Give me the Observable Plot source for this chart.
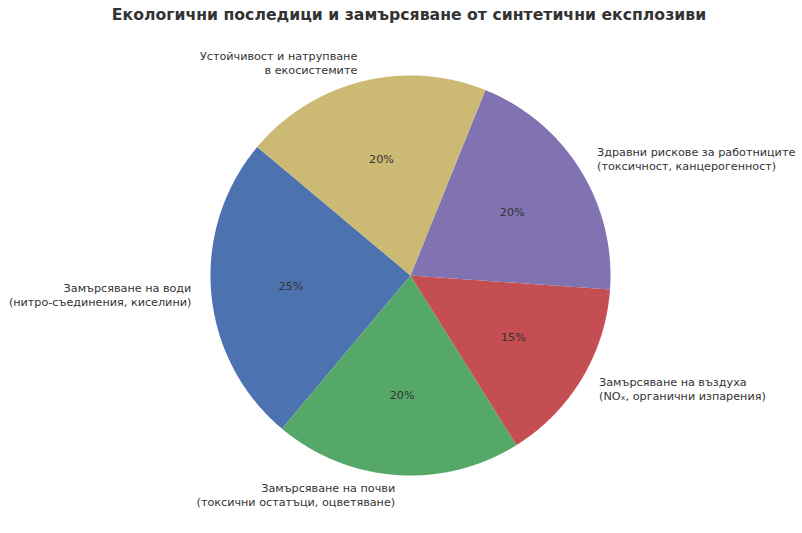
<!DOCTYPE html>
<html>
<head>
<meta charset="utf-8">
<script src="https://cdn.jsdelivr.net/npm/d3@7"></script>
<script src="https://cdn.jsdelivr.net/npm/@observablehq/plot@0.6"></script>
<style>
  body { margin: 0; background: #fff; font-family: "DejaVu Sans", sans-serif; }
  #title { height: 30px; line-height: 30px; text-align: center; font-weight: bold; font-size: 15.7px; color: #333; padding-left: 16px; }
</style>
</head>
<body>
<div id="title">Екологични последици и замърсяване от синтетични експлозиви</div>
<div id="chart"></div>
<script>
const categories = [
  "Замърсяване на води\n(нитро-съединения, киселини)",
  "Замърсяване на почви\n(токсични остатъци, оцветяване)",
  "Замърсяване на въздуха\n(NOₓ, органични изпарения)",
  "Здравни рискове за работниците\n(токсичност, канцерогенност)",
  "Устойчивост и натрупване\nв екосистемите"
];
const shares = [25, 20, 15, 20, 20];
const colors = ["#4C72B0", "#55A868", "#C44E52", "#8172B2", "#CCB974"];
const startAngle = 140; // degrees, counterclockwise

const total = d3.sum(shares);
let acc = startAngle;
const slices = categories.map((c, i) => {
  const a0 = acc, a1 = acc + shares[i] / total * 360;
  acc = a1;
  return {category: c, share: shares[i], a0, a1, mid: (a0 + a1) / 2};
});
const rad = d => d * Math.PI / 180;

// polygon outline of each slice (arc geometry)
const outline = [];
for (const s of slices) {
  outline.push({category: s.category, x: 0, y: 0});
  const n = Math.ceil(s.a1 - s.a0) * 2;
  for (let k = 0; k <= n; k++) {
    const a = rad(s.a0 + (s.a1 - s.a0) * k / n);
    outline.push({category: s.category, x: Math.cos(a), y: Math.sin(a)});
  }
  outline.push({category: s.category, x: 0, y: 0});
}

const labels = slices.map(s => ({
  text: s.category,
  x: 1.1 * Math.cos(rad(s.mid)),
  y: 1.1 * Math.sin(rad(s.mid))
}));
const pcts = slices.map(s => ({
  text: Math.round(s.share) + "%",
  x: 0.6 * Math.cos(rad(s.mid)),
  y: 0.6 * Math.sin(rad(s.mid))
}));

const W = 802, H = 503, R = 200, cx = 410, cy = 245;
const chart = Plot.plot({
  width: W, height: H,
  margin: 0,
  style: {fontFamily: "DejaVu Sans, sans-serif", background: "#fff"},
  x: {domain: [-cx / R, (W - cx) / R], range: [0, W], axis: null},
  y: {domain: [-(H - cy) / R, cy / R], range: [H, 0], axis: null},
  color: {domain: categories, range: colors},
  marks: [
    Plot.line(outline, {x: "x", y: "y", z: "category", fill: "category", stroke: "none", curve: "linear"}),
    Plot.text(pcts, {x: "x", y: "y", text: "text", fontSize: 11.2, fill: "#333"}),
    Plot.text(labels.filter(d => d.x >= 0), {x: "x", y: "y", text: "text", fontSize: 11.2, fill: "#333", textAnchor: "start", lineAnchor: "middle", lineHeight: 1.25}),
    Plot.text(labels.filter(d => d.x < 0), {x: "x", y: "y", text: "text", fontSize: 11.2, fill: "#333", textAnchor: "end", lineAnchor: "middle", lineHeight: 1.25})
  ]
});
document.getElementById("chart").appendChild(chart);
</script>
</body>
</html>
